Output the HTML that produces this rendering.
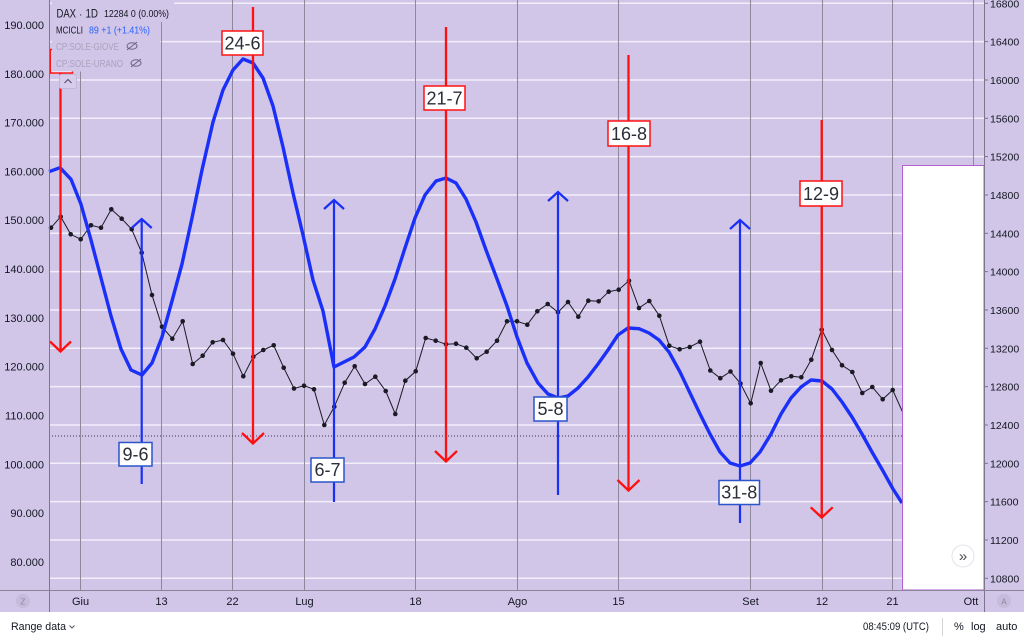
<!DOCTYPE html>
<html><head><meta charset="utf-8"><style>html,body{margin:0;padding:0;background:#fff}svg{display:block}</style></head>
<body>
<svg width="1024" height="640" viewBox="0 0 1024 640" xmlns="http://www.w3.org/2000/svg" font-family="'Liberation Sans', sans-serif">
<!-- backgrounds -->
<rect x="0" y="0" width="1024" height="612" fill="#d1c5e8"/>
<rect x="0" y="612" width="1024" height="28" fill="#ffffff"/>

<!-- horizontal gridlines -->
<g stroke="#f3effa" stroke-width="1.5">
<line x1="49" y1="3.3" x2="984" y2="3.3"/>
<line x1="49" y1="41.6" x2="984" y2="41.6"/>
<line x1="49" y1="80" x2="984" y2="80"/>
<line x1="49" y1="118.3" x2="984" y2="118.3"/>
<line x1="49" y1="156.6" x2="984" y2="156.6"/>
<line x1="49" y1="195" x2="984" y2="195"/>
<line x1="49" y1="233.3" x2="984" y2="233.3"/>
<line x1="49" y1="271.6" x2="984" y2="271.6"/>
<line x1="49" y1="310" x2="984" y2="310"/>
<line x1="49" y1="348.3" x2="984" y2="348.3"/>
<line x1="49" y1="386.6" x2="984" y2="386.6"/>
<line x1="49" y1="425" x2="984" y2="425"/>
<line x1="49" y1="463.3" x2="984" y2="463.3"/>
<line x1="49" y1="501.6" x2="984" y2="501.6"/>
<line x1="49" y1="540" x2="984" y2="540"/>
<line x1="49" y1="578.3" x2="984" y2="578.3"/>
</g>
<!-- vertical gridlines -->
<g stroke="#8e889c" stroke-width="1">
<line x1="80.5" y1="0" x2="80.5" y2="590"/>
<line x1="161.5" y1="0" x2="161.5" y2="590"/>
<line x1="232.5" y1="0" x2="232.5" y2="590"/>
<line x1="304.5" y1="0" x2="304.5" y2="590"/>
<line x1="415.5" y1="0" x2="415.5" y2="590"/>
<line x1="517.5" y1="0" x2="517.5" y2="590"/>
<line x1="618.5" y1="0" x2="618.5" y2="590"/>
<line x1="750.5" y1="0" x2="750.5" y2="590"/>
<line x1="822.5" y1="0" x2="822.5" y2="590"/>
<line x1="892.5" y1="0" x2="892.5" y2="590"/>
<line x1="973.5" y1="0" x2="973.5" y2="590"/>
</g>

<!-- dotted last price line -->
<line x1="49" y1="436" x2="902" y2="436" stroke="#3a3550" stroke-width="1" stroke-dasharray="1,2"/>

<!-- price line -->
<g>
<polyline fill="none" stroke="#1a1a24" stroke-width="1" points="51,227.7 60.7,216.7 70.7,234.3 80.7,239.3 91,225.3 101,227.7 111.3,209.3 121.7,218.7 131.7,229.3 141.7,252.7 152,295 162,326.7 172.3,338.7 182.7,321.3 192.7,364 202.7,355.7 212.7,342.3 223,340 233,353.7 243.3,376.3 253.3,356.7 263.3,350 273.7,345.3 283.7,367.7 294,388.5 304,385.7 314,389.3 324.3,425 334.3,406.7 344.7,382.7 354.7,366.3 365,384 375.3,376.7 385.7,391 395.3,414 405.3,380.7 415.7,371.3 425.7,338 435.7,340.7 446,344.3 456,343.7 466.3,347.7 476.7,358.3 486.7,351.7 497,340.7 507,321.3 517,321.3 527.3,324.7 537.3,311.3 547.7,304 558,312.3 568,302 578.3,316.7 588.3,300.7 598.7,301.3 608.7,291.7 618.7,289.7 629,280.7 639,308 649.3,301 659.3,315.7 669.3,345.7 679.7,349.3 689.7,347 700,341.7 710.3,370.5 720.3,378.2 730.5,371.5 740.5,383.5 750.7,403.3 760.7,363 771,390.8 781,380.3 791.3,376.3 801.3,377.3 811.3,359.7 821.7,329.7 832,350 842,365.3 852.3,372 862.3,393 872.3,387 882.7,399.3 892.7,390 902.7,412.3"/>
<g fill="#1a1a24">
<circle cx="51" cy="227.7" r="2.3"/><circle cx="60.7" cy="216.7" r="2.3"/><circle cx="70.7" cy="234.3" r="2.3"/><circle cx="80.7" cy="239.3" r="2.3"/><circle cx="91" cy="225.3" r="2.3"/><circle cx="101" cy="227.7" r="2.3"/><circle cx="111.3" cy="209.3" r="2.3"/><circle cx="121.7" cy="218.7" r="2.3"/><circle cx="131.7" cy="229.3" r="2.3"/><circle cx="141.7" cy="252.7" r="2.3"/><circle cx="152" cy="295" r="2.3"/><circle cx="162" cy="326.7" r="2.3"/><circle cx="172.3" cy="338.7" r="2.3"/><circle cx="182.7" cy="321.3" r="2.3"/><circle cx="192.7" cy="364" r="2.3"/><circle cx="202.7" cy="355.7" r="2.3"/><circle cx="212.7" cy="342.3" r="2.3"/><circle cx="223" cy="340" r="2.3"/><circle cx="233" cy="353.7" r="2.3"/><circle cx="243.3" cy="376.3" r="2.3"/><circle cx="253.3" cy="356.7" r="2.3"/><circle cx="263.3" cy="350" r="2.3"/><circle cx="273.7" cy="345.3" r="2.3"/><circle cx="283.7" cy="367.7" r="2.3"/><circle cx="294" cy="388.5" r="2.3"/><circle cx="304" cy="385.7" r="2.3"/><circle cx="314" cy="389.3" r="2.3"/><circle cx="324.3" cy="425" r="2.3"/><circle cx="334.3" cy="406.7" r="2.3"/><circle cx="344.7" cy="382.7" r="2.3"/><circle cx="354.7" cy="366.3" r="2.3"/><circle cx="365" cy="384" r="2.3"/><circle cx="375.3" cy="376.7" r="2.3"/><circle cx="385.7" cy="391" r="2.3"/><circle cx="395.3" cy="414" r="2.3"/><circle cx="405.3" cy="380.7" r="2.3"/><circle cx="415.7" cy="371.3" r="2.3"/><circle cx="425.7" cy="338" r="2.3"/><circle cx="435.7" cy="340.7" r="2.3"/><circle cx="446" cy="344.3" r="2.3"/><circle cx="456" cy="343.7" r="2.3"/><circle cx="466.3" cy="347.7" r="2.3"/><circle cx="476.7" cy="358.3" r="2.3"/><circle cx="486.7" cy="351.7" r="2.3"/><circle cx="497" cy="340.7" r="2.3"/><circle cx="507" cy="321.3" r="2.3"/><circle cx="517" cy="321.3" r="2.3"/><circle cx="527.3" cy="324.7" r="2.3"/><circle cx="537.3" cy="311.3" r="2.3"/><circle cx="547.7" cy="304" r="2.3"/><circle cx="558" cy="312.3" r="2.3"/><circle cx="568" cy="302" r="2.3"/><circle cx="578.3" cy="316.7" r="2.3"/><circle cx="588.3" cy="300.7" r="2.3"/><circle cx="598.7" cy="301.3" r="2.3"/><circle cx="608.7" cy="291.7" r="2.3"/><circle cx="618.7" cy="289.7" r="2.3"/><circle cx="629" cy="280.7" r="2.3"/><circle cx="639" cy="308" r="2.3"/><circle cx="649.3" cy="301" r="2.3"/><circle cx="659.3" cy="315.7" r="2.3"/><circle cx="669.3" cy="345.7" r="2.3"/><circle cx="679.7" cy="349.3" r="2.3"/><circle cx="689.7" cy="347" r="2.3"/><circle cx="700" cy="341.7" r="2.3"/><circle cx="710.3" cy="370.5" r="2.3"/><circle cx="720.3" cy="378.2" r="2.3"/><circle cx="730.5" cy="371.5" r="2.3"/><circle cx="740.5" cy="383.5" r="2.3"/><circle cx="750.7" cy="403.3" r="2.3"/><circle cx="760.7" cy="363" r="2.3"/><circle cx="771" cy="390.8" r="2.3"/><circle cx="781" cy="380.3" r="2.3"/><circle cx="791.3" cy="376.3" r="2.3"/><circle cx="801.3" cy="377.3" r="2.3"/><circle cx="811.3" cy="359.7" r="2.3"/><circle cx="821.7" cy="329.7" r="2.3"/><circle cx="832" cy="350" r="2.3"/><circle cx="842" cy="365.3" r="2.3"/><circle cx="852.3" cy="372" r="2.3"/><circle cx="862.3" cy="393" r="2.3"/><circle cx="872.3" cy="387" r="2.3"/><circle cx="882.7" cy="399.3" r="2.3"/><circle cx="892.7" cy="390" r="2.3"/>
</g>
</g>

<!-- blue cycle curve -->
<polyline fill="none" stroke="#1a30f8" stroke-width="3.4" stroke-linejoin="round" points="49,171.7 60,167.7 71,179.3 81,204.3 91,240 101,278 111,316 121,349 131,370 142,375 152,363 162,337 172,301 182,264 192,218 202,170 213,122 223,90 233,70 243,59 253,63 263,78 273,106 283,147 293,193 303,235 313,280 323,311 334,367 344,362 354,357 365,347 375,329 385,306 395,279 405,248 415,218 425,195 436,181 446,178 456,183 466,199 476,222 486,250 497,279 507,306 517,337 527,363 538,383 548,394 558,398 568,396 578,388 588,377 598,364 608,350 618,335 628,328 639,328.7 649,333 659,340 669,352 680,372 690,393 700,414 710,434 720,452 730,463 740,466 750,463 760,452 771,434 781,414 791,398 801,387 811,380 822,381 832,389 842,402 852,417 862,434 872,452 883,471 893,489 902,503"/>

<!-- blue up arrows -->
<g stroke="#1a30f8" stroke-width="2.2" fill="none">
<line x1="141.7" y1="220" x2="141.7" y2="484"/>
<polyline points="131.7,228 141.7,219 151.7,228"/>
<line x1="334" y1="201" x2="334" y2="502"/>
<polyline points="324,209 334,200 344,209"/>
<line x1="558" y1="193" x2="558" y2="495"/>
<polyline points="548,201 558,192 568,201"/>
<line x1="740" y1="221" x2="740" y2="523"/>
<polyline points="730,229 740,220 750,229"/>
</g>

<!-- red down arrows -->
<g stroke="#ff1010" stroke-width="2.3" fill="none">
<line x1="60.5" y1="73" x2="60.5" y2="351"/>
<polyline points="50,341.5 60.5,351.5 71,341.5"/>
<line x1="253" y1="7" x2="253" y2="443"/>
<polyline points="242,433 253,443.5 264,433"/>
<line x1="446" y1="27" x2="446" y2="461"/>
<polyline points="435,451 446,461.5 457,451"/>
<line x1="628.5" y1="55" x2="628.5" y2="490"/>
<polyline points="617.5,480 628.5,490.5 639.5,480"/>
<line x1="821.7" y1="120" x2="821.7" y2="517"/>
<polyline points="810.7,507.3 821.7,517.5 832.7,507.3"/>
</g>

<!-- labels -->
<g font-size="18" fill="#2a2e39" text-anchor="middle">
<rect x="222" y="31" width="41" height="24" fill="#fff" stroke="#ff1010" stroke-width="1.5"/>
<text x="242.5" y="49.5">24-6</text>
<rect x="424" y="86" width="41" height="24" fill="#fff" stroke="#ff1010" stroke-width="1.5"/>
<text x="444.5" y="104.5">21-7</text>
<rect x="608" y="121" width="42" height="25" fill="#fff" stroke="#ff1010" stroke-width="1.5"/>
<text x="629" y="140">16-8</text>
<rect x="800" y="181" width="42" height="25" fill="#fff" stroke="#ff1010" stroke-width="1.5"/>
<text x="821" y="200">12-9</text>
<rect x="119" y="442.5" width="33" height="23.5" fill="#fff" stroke="#2b55c8" stroke-width="1.5"/>
<text x="135.5" y="460.5">9-6</text>
<rect x="311" y="458" width="33" height="24" fill="#fff" stroke="#2b55c8" stroke-width="1.5"/>
<text x="327.5" y="476">6-7</text>
<rect x="534" y="397" width="33" height="24" fill="#fff" stroke="#2b55c8" stroke-width="1.5"/>
<text x="550.5" y="415">5-8</text>
<rect x="719" y="480.5" width="40.5" height="24" fill="#fff" stroke="#2b55c8" stroke-width="1.5"/>
<text x="739.3" y="498.5">31-8</text>
</g>

<!-- partial red label box top-left -->
<rect x="50.5" y="49.5" width="22" height="23.5" fill="#fff" stroke="#ff1010" stroke-width="1.5"/>

<!-- legend background -->
<rect x="52" y="0" width="108" height="71.5" fill="#d1c5e8"/>
<rect x="52" y="0" width="122" height="22" fill="#d1c5e8"/>
<g font-size="12" fill="#131722">
<text x="56.5" y="17.5" textLength="19.5" lengthAdjust="spacingAndGlyphs">DAX</text>
<text x="79" y="17.5" font-size="10">·</text>
<text x="85.5" y="17.5" textLength="12.5" lengthAdjust="spacingAndGlyphs">1D</text>
<text x="104" y="17" font-size="10" textLength="65" lengthAdjust="spacingAndGlyphs">12284 0 (0.00%)</text>
</g>
<text x="56" y="33.5" font-size="10" fill="#131722" textLength="27" lengthAdjust="spacingAndGlyphs">MCICLI</text>
<text x="89" y="33.5" font-size="10" fill="#2962ff" textLength="61" lengthAdjust="spacingAndGlyphs">89 +1 (+1.41%)</text>
<text x="56" y="50" font-size="10" fill="#aaa3bc" textLength="63" lengthAdjust="spacingAndGlyphs">CP:SOLE-GIOVE</text>
<text x="56" y="67" font-size="10" fill="#aaa3bc" textLength="67" lengthAdjust="spacingAndGlyphs">CP:SOLE-URANO</text>
<g stroke="#6b6680" stroke-width="1" fill="none">
<ellipse cx="132" cy="46" rx="5" ry="3.2"/>
<line x1="127" y1="50" x2="137" y2="42"/>
<ellipse cx="136" cy="63" rx="5" ry="3.2"/>
<line x1="131" y1="67" x2="141" y2="59"/>
</g>
<rect x="59.5" y="74.5" width="17" height="14" rx="2" fill="#d7ccec" stroke="#c2b8d6" stroke-width="1"/>
<polyline points="64.5,83 68,79.5 71.5,83" fill="none" stroke="#55506a" stroke-width="1.1"/>

<!-- white box right -->
<rect x="902.5" y="165.5" width="81.5" height="424.5" fill="#ffffff" stroke="#b45fcf" stroke-width="1"/>
<circle cx="963" cy="556" r="11" fill="#fff" stroke="#e6e3ec" stroke-width="1"/>
<text x="963" y="561" font-size="15" fill="#4a4a55" text-anchor="middle">»</text>

<!-- axis separators -->
<line x1="49.5" y1="0" x2="49.5" y2="612" stroke="#7a758a" stroke-width="1"/>
<line x1="984.5" y1="0" x2="984.5" y2="612" stroke="#7a758a" stroke-width="1"/>
<line x1="0" y1="590.5" x2="1024" y2="590.5" stroke="#8a859a" stroke-width="1"/>

<!-- left axis labels -->
<g font-size="11" fill="#131722" text-anchor="end">
<text x="44" y="29">190.000</text>
<text x="44" y="78">180.000</text>
<text x="44" y="126.5">170.000</text>
<text x="44" y="175.5">160.000</text>
<text x="44" y="224">150.000</text>
<text x="44" y="273">140.000</text>
<text x="44" y="322">130.000</text>
<text x="44" y="370.5">120.000</text>
<text x="44" y="419.5">110.000</text>
<text x="44" y="468.5">100.000</text>
<text x="44" y="517">90.000</text>
<text x="44" y="566">80.000</text>
</g>
<!-- right axis labels -->
<g stroke="#7a758a" stroke-width="1">
<line x1="984" y1="3.3" x2="988" y2="3.3"/><line x1="984" y1="41.6" x2="988" y2="41.6"/><line x1="984" y1="80" x2="988" y2="80"/><line x1="984" y1="118.3" x2="988" y2="118.3"/><line x1="984" y1="156.6" x2="988" y2="156.6"/><line x1="984" y1="195" x2="988" y2="195"/><line x1="984" y1="233.3" x2="988" y2="233.3"/><line x1="984" y1="271.6" x2="988" y2="271.6"/><line x1="984" y1="310" x2="988" y2="310"/><line x1="984" y1="348.3" x2="988" y2="348.3"/><line x1="984" y1="386.6" x2="988" y2="386.6"/><line x1="984" y1="425" x2="988" y2="425"/><line x1="984" y1="463.3" x2="988" y2="463.3"/><line x1="984" y1="501.6" x2="988" y2="501.6"/><line x1="984" y1="540" x2="988" y2="540"/><line x1="984" y1="578.3" x2="988" y2="578.3"/>
</g>
<g font-size="10.5" fill="#131722">
<text x="990" y="7.3">16800</text>
<text x="990" y="45.6">16400</text>
<text x="990" y="84">16000</text>
<text x="990" y="122.3">15600</text>
<text x="990" y="160.6">15200</text>
<text x="990" y="199">14800</text>
<text x="990" y="237.3">14400</text>
<text x="990" y="275.6">14000</text>
<text x="990" y="314">13600</text>
<text x="990" y="352.3">13200</text>
<text x="990" y="390.6">12800</text>
<text x="990" y="429">12400</text>
<text x="990" y="467.3">12000</text>
<text x="990" y="505.6">11600</text>
<text x="990" y="544">11200</text>
<text x="990" y="582.3">10800</text>
</g>

<!-- time axis labels -->
<g font-size="11" fill="#131722" text-anchor="middle">
<text x="80.5" y="605">Giu</text>
<text x="161.5" y="605">13</text>
<text x="232.5" y="605">22</text>
<text x="304.5" y="605">Lug</text>
<text x="415.5" y="605">18</text>
<text x="517.5" y="605">Ago</text>
<text x="618.5" y="605">15</text>
<text x="750.5" y="605">Set</text>
<text x="822" y="605">12</text>
<text x="892.5" y="605">21</text>
<text x="971" y="605">Ott</text>
</g>
<circle cx="23" cy="601" r="7" fill="#c5bbdb"/>
<text x="23" y="604.5" font-size="8" fill="#8a8598" text-anchor="middle">Z</text>
<circle cx="1004" cy="601" r="7" fill="#c5bbdb"/>
<text x="1004" y="604.5" font-size="8" fill="#8a8598" text-anchor="middle">A</text>

<!-- bottom bar -->
<text x="11" y="630" font-size="11" fill="#131722" textLength="55" lengthAdjust="spacingAndGlyphs">Range data</text>
<polyline points="69.5,625.5 72,628 74.5,625.5" fill="none" stroke="#555" stroke-width="1"/>
<text x="863" y="630" font-size="11" fill="#131722" textLength="66" lengthAdjust="spacingAndGlyphs">08:45:09 (UTC)</text>
<line x1="942.5" y1="618" x2="942.5" y2="636" stroke="#d4d4d8" stroke-width="1"/>
<text x="954" y="630" font-size="11" fill="#131722">%</text>
<text x="971" y="630" font-size="11" fill="#131722">log</text>
<text x="996" y="630" font-size="11" fill="#131722">auto</text>
</svg>
</body></html>
